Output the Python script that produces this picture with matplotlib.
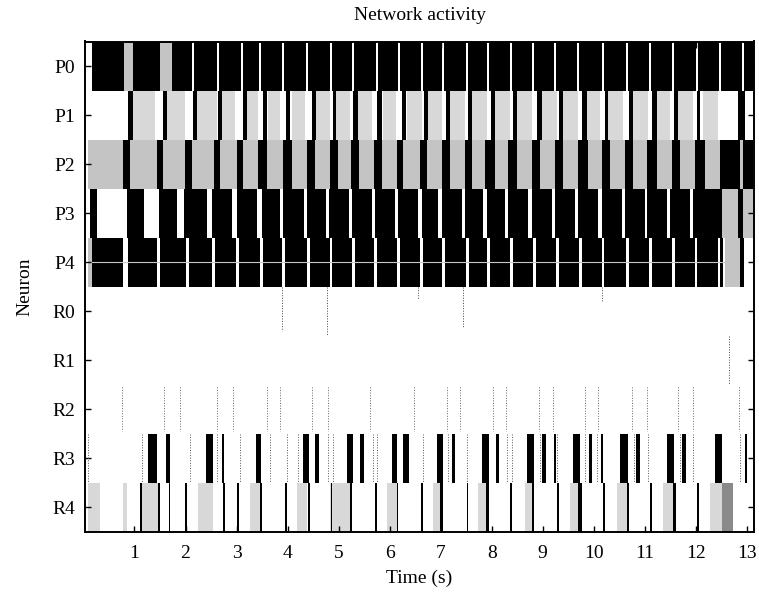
import matplotlib
matplotlib.use("Agg")

matplotlib.rcParams['font.family'] = 'Liberation Serif'
matplotlib.rcParams['font.size'] = 14

import matplotlib.pyplot as plt

# neuron rows, top to bottom
neurons = ['P0', 'P1', 'P2', 'P3', 'P4', 'R0', 'R1', 'R2', 'R3', 'R4']
x_ticks = [1, 2, 3, 4, 5, 6, 7, 8, 9, 10, 11, 12, 13]

# ---- P0: bursting (black) nearly all the time, short silences
p0_span = (0.17, 13.14)
p0_grey = [(0.79, 0.98), (1.50, 1.74)]
p0_white = [(2.13, 2.17), (2.62, 2.66), (3.08, 3.12), (3.44, 3.48), (3.89, 3.93),
            (4.36, 4.40), (4.83, 4.87), (5.26, 5.30), (5.74, 5.78), (6.17, 6.21),
            (6.62, 6.66), (7.03, 7.07), (7.50, 7.54), (7.91, 7.95), (8.36, 8.40),
            (8.79, 8.83), (9.22, 9.26), (9.67, 9.71), (10.16, 10.20), (10.63, 10.67),
            (11.09, 11.13), (11.54, 11.58), (12.01, 12.05), (12.46, 12.50), (12.91, 12.95)]

# ---- P1: mostly quiet, low-rate blocks and short bursts
p1_grey = [(0.97, 1.41), (1.64, 1.99), (2.23, 2.62), (2.72, 2.97), (3.21, 3.42),
           (3.62, 3.85), (4.09, 4.35), (4.56, 4.83), (4.95, 5.23), (5.38, 5.66),
           (5.87, 6.13), (6.34, 6.64), (6.75, 7.03), (7.19, 7.48), (7.62, 7.91),
           (8.07, 8.36), (8.50, 8.79), (8.99, 9.28), (9.40, 9.69), (9.87, 10.13),
           (10.28, 10.58), (10.77, 11.07), (11.24, 11.50), (11.66, 11.95), (12.14, 12.44)]
p1_black = [(0.88, 0.97), (1.56, 1.64), (2.15, 2.23), (2.64, 2.72), (3.13, 3.21),
            (3.52, 3.60), (3.97, 4.05), (4.48, 4.56), (4.89, 4.95), (5.28, 5.38),
            (5.76, 5.85), (6.25, 6.32), (6.68, 6.75), (7.11, 7.19), (7.54, 7.62),
            (7.99, 8.07), (8.42, 8.50), (8.89, 8.99), (9.32, 9.40), (9.77, 9.87),
            (10.22, 10.28), (10.69, 10.77), (11.15, 11.24), (11.58, 11.66), (12.03, 12.09),
            (12.83, 12.97)]

# ---- P2: low-rate firing with bursts
p2_span = (0.09, 13.12)
p2_black = [(0.78, 0.92), (1.44, 1.56), (1.99, 2.13), (2.56, 2.68), (3.01, 3.13),
            (3.42, 3.60), (3.91, 4.09), (4.38, 4.54), (4.83, 4.99), (5.24, 5.40),
            (5.70, 5.85), (6.14, 6.27), (6.60, 6.73), (7.03, 7.19), (7.48, 7.62),
            (7.87, 8.07), (8.32, 8.50), (8.79, 8.95), (9.24, 9.40), (9.69, 9.89),
            (10.16, 10.32), (10.61, 10.77), (11.05, 11.24), (11.54, 11.69), (11.98, 12.18),
            (12.47, 12.87), (12.93, 13.12)]

# ---- P3
p3_span = (0.13, 12.93)
p3_white = [(0.27, 0.86), (1.18, 1.48), (1.84, 1.97), (2.42, 2.52), (2.91, 3.01),
            (3.40, 3.50), (3.85, 3.91), (4.32, 4.38), (4.76, 4.82), (5.21, 5.27),
            (5.66, 5.72), (6.11, 6.17), (6.56, 6.64), (6.95, 7.03), (7.42, 7.48),
            (7.83, 7.91), (8.26, 8.32), (8.71, 8.79), (9.18, 9.24), (9.64, 9.70),
            (10.09, 10.16), (10.56, 10.62), (11.01, 11.05), (11.44, 11.50), (11.89, 11.95)]
p3_grey = [(12.52, 12.83), (12.93, 13.12)]
p3_black_inner = [(12.83, 12.93)]

# ---- P4
p4_span = (0.17, 12.57)
p4_white = [(0.78, 0.88), (1.45, 1.50), (2.01, 2.06), (2.52, 2.57), (2.99, 3.04),
            (3.46, 3.51), (3.89, 3.94), (4.38, 4.43), (4.83, 4.88), (5.27, 5.32),
            (5.70, 5.75), (6.15, 6.20), (6.60, 6.65), (7.03, 7.08), (7.50, 7.55),
            (7.91, 7.96), (8.36, 8.41), (8.81, 8.86), (9.26, 9.31), (9.71, 9.76),
            (10.16, 10.21), (10.64, 10.69), (11.09, 11.14), (11.54, 11.59), (11.99, 12.03),
            (12.43, 12.47), (12.53, 12.57)]
p4_grey = [(0.09, 0.17), (12.57, 12.87)]
p4_black_end = [(12.87, 12.95)]

# ---- R rows: isolated spikes (time, length as fraction of the row)
r0_spikes = [(3.89, 0.9), (4.77, 1.0), (6.56, 0.25), (7.44, 0.85), (10.16, 0.3)]
r1_spikes = [(12.65, 1.0)]
r2_spikes = [0.75, 1.57, 1.89, 2.61, 2.94, 3.59, 3.85, 4.48, 4.80, 5.62, 6.47,
             7.12, 7.38, 8.03, 8.28, 8.92, 9.21, 9.83, 10.09, 10.75, 11.04, 11.66,
             11.95, 12.84]

r3_black = [(1.27, 1.45), (1.62, 1.69), (2.40, 2.54), (2.71, 2.76), (3.38, 3.48),
            (4.31, 4.41), (4.54, 4.62), (5.16, 5.28), (5.41, 5.49), (6.04, 6.15),
            (6.27, 6.37), (6.93, 7.05), (7.22, 7.28), (7.81, 7.94), (8.08, 8.15),
            (8.70, 8.82), (8.99, 9.06), (9.22, 9.26), (9.60, 9.73), (9.90, 9.97),
            (10.14, 10.19), (10.52, 10.67), (10.82, 10.90), (11.44, 11.58), (11.73, 11.81),
            (12.38, 12.51), (12.97, 13.00)]
r3_spikes = [0.09, 1.14, 2.09, 2.61, 3.07, 3.66, 3.99, 4.21, 4.80, 4.89, 5.68, 5.75,
             6.66, 7.15, 7.51, 8.30, 8.39, 8.95, 9.28, 9.83, 10.06, 10.78, 11.07,
             11.69, 11.95, 12.87]

r4_grey = [(0.09, 0.33), (0.78, 0.86), (1.14, 1.47), (2.25, 2.54), (3.27, 3.46),
           (4.18, 4.38), (4.83, 5.23), (5.95, 6.14), (6.85, 7.05), (7.73, 7.93),
           (8.65, 8.81), (9.54, 9.77), (10.45, 10.68), (11.36, 11.60), (12.28, 12.51)]
r4_dense = [(12.51, 12.73)]
r4_black = [(1.10, 1.14), (1.47, 1.50), (1.67, 1.70), (1.99, 2.03), (2.74, 2.78),
            (3.01, 3.04), (3.46, 3.50), (3.95, 3.99), (4.40, 4.43), (4.85, 4.88),
            (5.23, 5.26), (5.72, 5.75), (6.14, 6.17), (6.61, 6.66), (6.99, 7.04),
            (7.51, 7.54), (7.89, 7.94), (8.36, 8.39), (8.79, 8.83), (9.28, 9.31),
            (9.70, 9.77), (10.19, 10.22), (10.65, 10.69), (11.11, 11.14), (11.56, 11.61),
            (12.02, 12.07)]

BLACK = 'black'
GREY = '#c4c4c4'
LIGHT = '#d8d8d8'


def bars(ax, row, segs, color):
    ax.broken_barh([(s, e - s) for s, e in segs], (row - 0.5, 1.0),
                   facecolors=color, edgecolors='none', linewidth=0)


fig = plt.figure(figsize=(7.59, 5.96), dpi=100)
ax = fig.add_axes([85 / 759, 1 - 532 / 596, 669 / 759, 490.5 / 596])

# P0
bars(ax, 0, [p0_span], BLACK)
bars(ax, 0, p0_grey, GREY)
bars(ax, 0, p0_white, 'white')

# P1
bars(ax, 1, p1_grey, LIGHT)
bars(ax, 1, p1_black, BLACK)

# P2
bars(ax, 2, [p2_span], GREY)
bars(ax, 2, p2_black, BLACK)

# P3
bars(ax, 3, [p3_span], BLACK)
bars(ax, 3, p3_white, 'white')
bars(ax, 3, p3_grey, GREY)
bars(ax, 3, p3_black_inner, BLACK)

# P4
bars(ax, 4, [p4_span], BLACK)
bars(ax, 4, p4_white, 'white')
bars(ax, 4, p4_grey, GREY)
bars(ax, 4, p4_black_end, BLACK)
ax.plot([p4_span[0], p4_span[1]], [4, 4], color='#c8c8c8', lw=0.8)

# R0, R1 single spikes
for row, spikes in [(5, r0_spikes), (6, r1_spikes)]:
    for t, l in spikes:
        ax.vlines(t, row - 0.5, row - 0.5 + l, colors='#444444', lw=0.7,
                  linestyles=':')

# R2
ax.vlines(r2_spikes, 7 - 0.45, 7 + 0.45, colors='#666666', lw=0.7, linestyles=':')

# R3
ax.vlines(r3_spikes, 8 - 0.5, 8 + 0.5, colors='#555555', lw=0.7, linestyles=':')
bars(ax, 8, r3_black, BLACK)

# R4
bars(ax, 9, r4_grey, LIGHT)
bars(ax, 9, r4_dense, '#8a8a8a')
bars(ax, 9, r4_black, BLACK)

ax.set_xlim(0.03, 13.14)
ax.set_ylim(9.5, -0.5)
ax.set_yticks(range(len(neurons)))
ax.set_yticklabels(neurons)
ax.set_xticks(x_ticks)

ax.tick_params(direction='in', length=4, width=1.0, top=True, right=True,
               labelsize=14)
ax.tick_params(axis='x', pad=9)
ax.tick_params(axis='y', pad=7)
for sp in ax.spines.values():
    sp.set_linewidth(1.4)

fig.text(420 / 759, 1 - 15 / 596, "Network activity", ha='center', va='center',
         fontsize=14)
fig.text(419 / 759, 1 - 578 / 596, "Time (s)", ha='center', va='center',
         fontsize=14)
fig.text(25 / 759, 1 - 287 / 596, "Neuron", ha='center', va='center',
         rotation=90, fontsize=14)

fig.savefig("out.png", dpi=100)
